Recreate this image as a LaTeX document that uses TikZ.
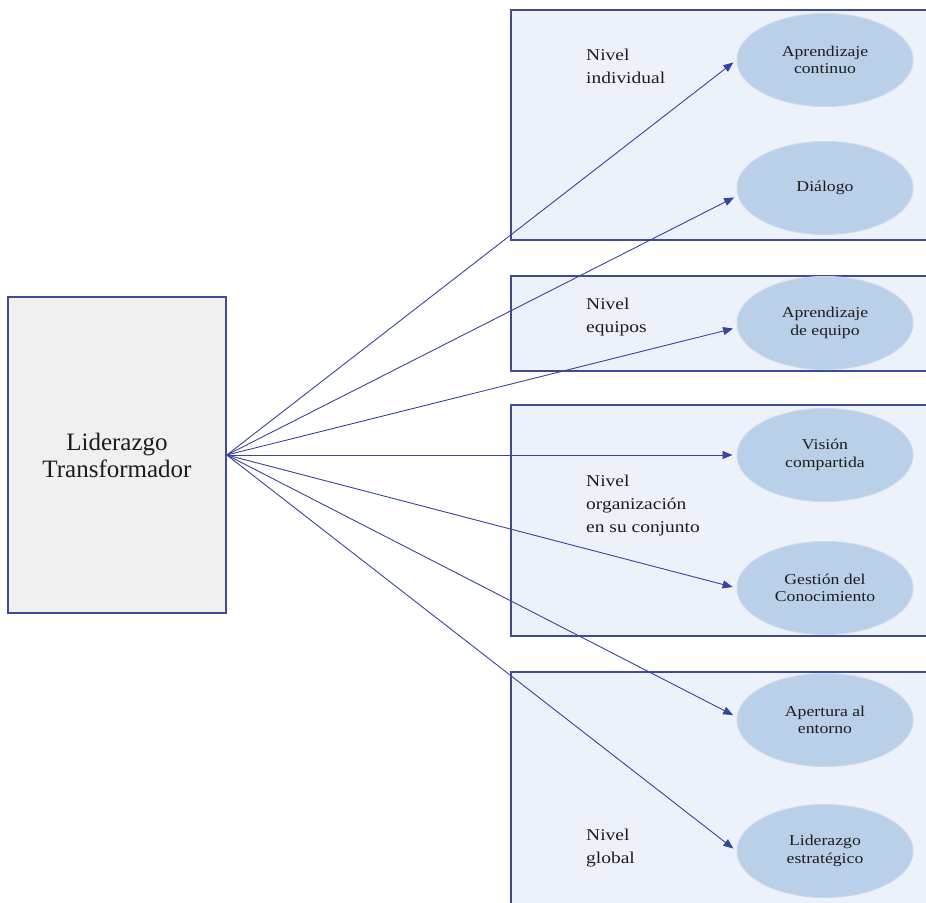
\documentclass[tikz,border=0pt]{standalone}
\usepackage{fontspec}
\setmainfont{Liberation Serif}
\newfontfamily\labelfont[FakeStretch=1.18]{Liberation Serif}
\usetikzlibrary{arrows.meta,shapes.geometric}

\definecolor{frameblue}{RGB}{62,76,150}
\definecolor{arrowblue}{RGB}{55,68,158}
\definecolor{levelfill}{RGB}{236,241,250}
\definecolor{leaderfill}{RGB}{240,240,241}
\definecolor{bubblefill}{RGB}{186,208,232}
\definecolor{inktext}{RGB}{28,28,28}

\tikzset{
  levelbox/.style={draw=frameblue, line width=1.8pt, fill=levelfill, rectangle, inner sep=0pt},
  leaderbox/.style={draw=frameblue, line width=1.6pt, fill=leaderfill, rectangle,
    minimum width=218pt, minimum height=316pt, inner sep=0pt,
    font=\fontsize{25}{27}\selectfont, text=inktext, align=center},
  bubble/.style={ellipse, fill=bubblefill, draw=bubblefill!80!white, line width=1pt,
    minimum width=176pt, minimum height=93pt, inner sep=0pt,
    font=\labelfont\fontsize{15}{17.5}\selectfont, text=inktext, align=center},
  levellabel/.style={anchor=west, align=left, inner sep=0pt,
    font=\labelfont\fontsize{16.5}{23}\selectfont, text=inktext},
  link/.style={draw=arrowblue, line width=0.9pt, shorten >=4pt,
    -{Triangle[length=10pt,width=8pt]}},
}

\begin{document}
\begin{tikzpicture}[x=1pt,y=-1pt]
\useasboundingbox (0,0) rectangle (926,902);
\clip (0,0) rectangle (926,902);

% level frames (right edge runs off the page)
\node[levelbox, minimum width=430pt, minimum height=230pt] (lvA) at (726,125) {};
\node[levelbox, minimum width=430pt, minimum height=95pt]  (lvB) at (726,323.5) {};
\node[levelbox, minimum width=430pt, minimum height=231pt] (lvC) at (726,520.5) {};
\node[levelbox, minimum width=430pt, minimum height=250pt] (lvD) at (726,797) {};

% level captions
\node[levellabel] (capA) at (586,66)  {Nivel\\individual};
\node[levellabel] (capB) at (586,317) {Nivel\\equipos};
\node[levellabel] (capC) at (586,506) {Nivel\\organización\\en su conjunto};
\node[levellabel] (capD) at (586,848) {Nivel\\global};

% learning-organisation dimensions
\node[bubble] (e1) at (825,60)  {Aprendizaje\\continuo};
\node[bubble] (e2) at (825,188) {Diálogo};
\node[bubble] (e3) at (825,323) {Aprendizaje\\de equipo};
\node[bubble] (e4) at (825,455) {Visión\\compartida};
\node[bubble] (e5) at (825,588) {Gestión del\\Conocimiento};
\node[bubble] (e6) at (825,720) {Apertura al\\entorno};
\node[bubble] (e7) at (825,851) {Liderazgo\\estratégico};

% source box
\node[leaderbox] (lead) at (117,455) {Liderazgo\\Transformador};

% connectors
\draw[link] (lead.east) -- (e1.west);
\draw[link] (lead.east) -- (e2.185);
\draw[link] (lead.east) -- (e3.183);
\draw[link] (lead.east) -- (e4.west);
\draw[link] (lead.east) -- (e5.west);
\draw[link] (lead.east) -- (e6.178);
\draw[link] (lead.east) -- (e7.west);
\end{tikzpicture}
\end{document}
